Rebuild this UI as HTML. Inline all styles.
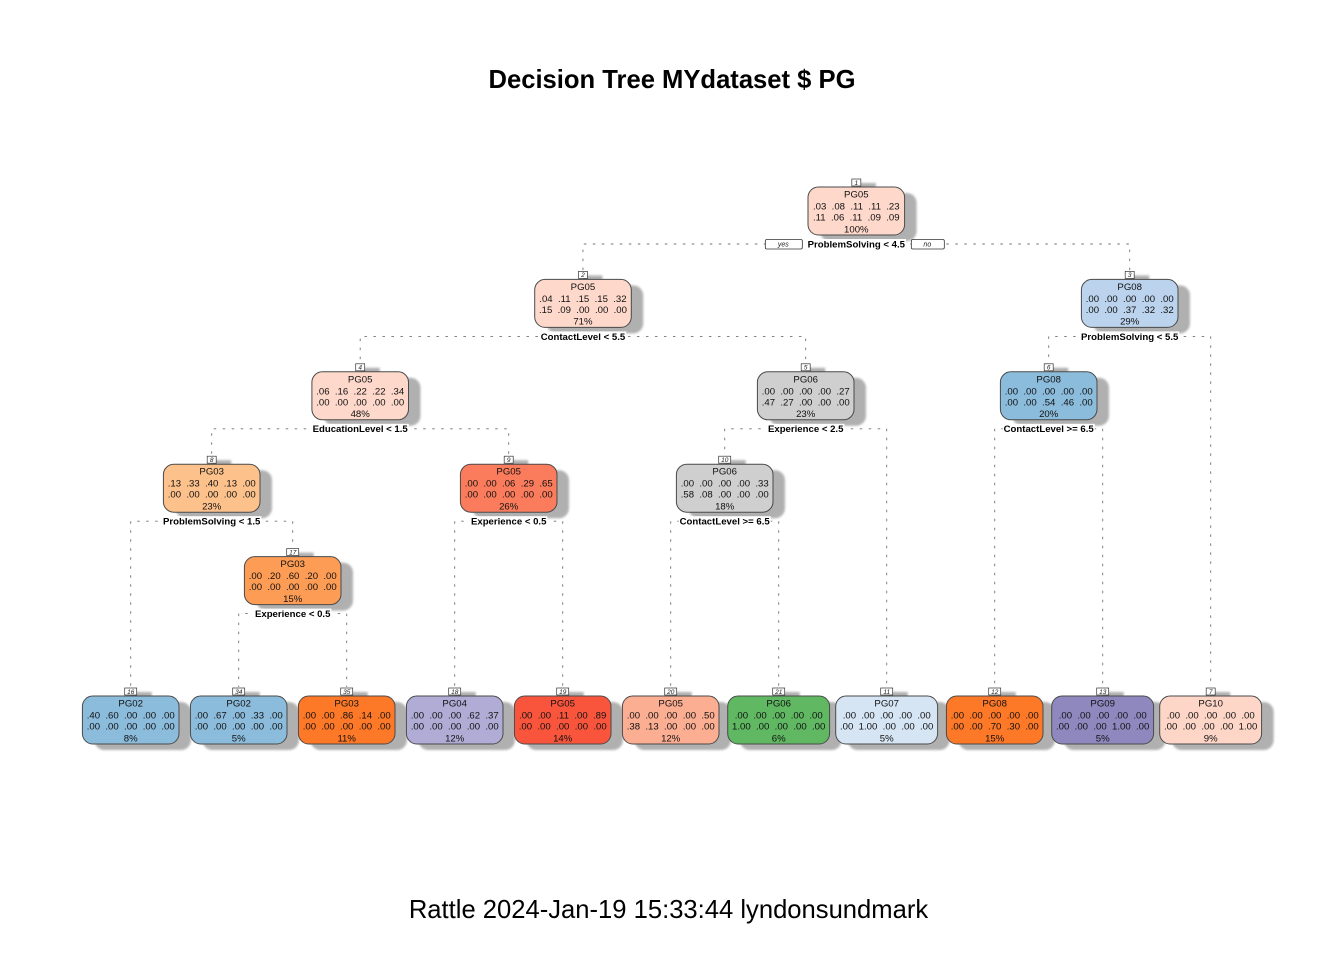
<!DOCTYPE html>
<html lang="en">
<head>
<meta charset="utf-8">
<title>Decision Tree MYdataset $ PG</title>
<style>
html,body{margin:0;padding:0;background:#fff;}
body{width:1344px;height:960px;overflow:hidden;}
svg{display:block;font-family:"Liberation Sans",Arial,sans-serif;}
</style>
</head>
<body>
<svg id="chart" width="1344" height="960" viewBox="0 0 1344 960" xmlns="http://www.w3.org/2000/svg">
<defs><filter id="soft" x="-10%" y="-10%" width="120%" height="120%"><feGaussianBlur stdDeviation="1.1"/></filter></defs>
<rect width="1344" height="960" fill="#fff"/>
<text x="672" y="88" text-anchor="middle" font-size="25.6" font-weight="bold" fill="#000">Decision Tree MYdataset $ PG</text>
<text x="668.5" y="918" text-anchor="middle" font-size="25.6" fill="#000">Rattle 2024-Jan-19 15:33:44 lyndonsundmark</text>
<g id="branches"></g>
<g id="shadows"></g>
<g id="nodes"></g>
</svg>
<script>
const nodeIds = [1,2,3,4,5,6,7,8,9,10,11,12,13,16,17,18,19,20,21,34,35];
const nodeClasses = ["PG05","PG05","PG08","PG05","PG06","PG08","PG10","PG03","PG05","PG06","PG07","PG08","PG09","PG02","PG03","PG04","PG05","PG05","PG06","PG02","PG03"];
const nodePercents = [100,71,29,48,23,20,9,23,26,18,5,15,5,8,15,12,14,12,6,5,11];
const nodeProbsTop = [
  [.03,.08,.11,.11,.23],[.04,.11,.15,.15,.32],[0,0,0,0,0],[.06,.16,.22,.22,.34],[0,0,0,0,.27],
  [0,0,0,0,0],[0,0,0,0,0],[.13,.33,.40,.13,0],[0,0,.06,.29,.65],[0,0,0,0,.33],
  [0,0,0,0,0],[0,0,0,0,0],[0,0,0,0,0],[.40,.60,0,0,0],[0,.20,.60,.20,0],
  [0,0,0,.62,.37],[0,0,.11,0,.89],[0,0,0,0,.50],[0,0,0,0,0],[0,.67,0,.33,0],[0,0,.86,.14,0]
];
const nodeProbsBottom = [
  [.11,.06,.11,.09,.09],[.15,.09,0,0,0],[0,0,.37,.32,.32],[0,0,0,0,0],[.47,.27,0,0,0],
  [0,0,.54,.46,0],[0,0,0,0,1],[0,0,0,0,0],[0,0,0,0,0],[.58,.08,0,0,0],
  [0,1,0,0,0],[0,0,.70,.30,0],[0,0,0,1,0],[0,0,0,0,0],[0,0,0,0,0],
  [0,0,0,0,0],[0,0,0,0,0],[.38,.13,0,0,0],[1,0,0,0,0],[0,0,0,0,0],[0,0,0,0,0]
];
const splitNodeIds = [1,2,3,4,5,6,8,9,10,17];
const splitLabels = ["ProblemSolving < 4.5","ContactLevel < 5.5","ProblemSolving < 5.5","EducationLevel < 1.5","Experience < 2.5","ContactLevel >= 6.5","ProblemSolving < 1.5","Experience < 0.5","ContactLevel >= 6.5","Experience < 0.5"];

/* styling, keyed by node id */
const nodeFillById = {1:"#fdd8cb",2:"#fdd8cb",3:"#bbd3ec",4:"#fdd8cb",5:"#cfcfcf",6:"#8cbcdc",7:"#fdd6c8",8:"#fdc28c",9:"#fb7c5c",10:"#cfcfcf",11:"#d6e5f4",12:"#fd7827",13:"#8e88bf",16:"#8cbcdc",17:"#fd9c55",18:"#b0acd6",19:"#f9553c",20:"#fcae93",21:"#60b862",34:"#8cbcdc",35:"#fd7827"};

/* axis-like layout functions */
const leafStart = 130.7, leafStep = 108, rowTop = 187, rowStep = 92.4, leafTop = 696, boxH = 48;
const has = id => nodeIds.includes(id);
const isLeaf = id => !has(id*2);
const leafOrder = [];
(function walk(id){ if(isLeaf(id)){leafOrder.push(id);return;} walk(id*2); walk(id*2+1); })(1);
const xOf = id => isLeaf(id) ? leafStart + leafOrder.indexOf(id)*leafStep : (xOf(id*2)+xOf(id*2+1))/2;
const topOf = id => isLeaf(id) ? leafTop : rowTop + Math.floor(Math.log2(id))*rowStep;
const fmt = v => v === 1 ? "1.00" : v.toFixed(2).replace(/^0/,"");
const rowText = r => r.map(fmt).join("\u00a0\u00a0");
const rowEm = r => r.reduce((s,v)=>s+(v===1?1.946:1.39),0)+8*0.278;
const widthOf = i => Math.max(rowEm(nodeProbsTop[i]),rowEm(nodeProbsBottom[i]))*9.6+8.5;

const NS = "http://www.w3.org/2000/svg";
function mk(tag, parent, attrs, txt){
  const e = document.createElementNS(NS, tag);
  for(const k in attrs) e.setAttribute(k, attrs[k]);
  if(txt !== undefined) e.textContent = txt;
  parent.appendChild(e);
  return e;
}
const gB = document.getElementById("branches");
const gS = document.getElementById("shadows");
const gN = document.getElementById("nodes");

/* branches */
splitNodeIds.forEach(id=>{
  const y = topOf(id)+boxH+9;
  [id*2,id*2+1].forEach(c=>{
    const p = mk("path", gB, {d:`M${xOf(id)} ${y}H${xOf(c)}V${topOf(c)-9}`, fill:"none", stroke:"#707070", "stroke-width":0.9, "stroke-dasharray":"2.5 6.5"});
    
    
  });
});

/* shadows */
nodeIds.forEach((id,i)=>{
  const x = xOf(id), t = topOf(id), w = widthOf(i);
  const lw = String(id).length>1 ? 12 : 9;
  const s = mk("g", gS, {fill:"#b0b0b0", filter:"url(#soft)"});
  
  
  mk("rect", s, {x:x-w/2+12, y:t+6, width:w, height:boxH, rx:10, ry:10});
  mk("rect", s, {x:x, y:t-4, width:lw/2+15, height:8});
});

/* nodes */
nodeIds.forEach((id,i)=>{
  const x = xOf(id), t = topOf(id), w = widthOf(i);
  const g = mk("g", gN, {});
  
  
  const box = mk("rect", g, {x:(x-w/2).toFixed(1), y:t, width:w.toFixed(1), height:boxH, rx:10.5, ry:10.5, fill:nodeFillById[id], stroke:"#4a4a4a", "stroke-width":1});
  
  
  const lw = String(id).length>1 ? 12 : 9;
  const lb = mk("rect", g, {x:x-lw/2, y:t-8, width:lw, height:7, fill:"#fff", stroke:"#333", "stroke-width":0.7});
  
  
  const ln = mk("text", g, {x:x, y:t-2.2, "text-anchor":"middle", "font-size":6.5, "font-style":"italic", fill:"#222"}, id);
  
  
  const c = mk("text", g, {x:x, y:t+10.5, "text-anchor":"middle", "font-size":9.6, fill:"#111"}, nodeClasses[i]);
  
  
  const r1 = mk("text", g, {x:x, y:t+22.5, "text-anchor":"middle", "font-size":9.6, fill:"#111"}, rowText(nodeProbsTop[i]));
  
  
  const r2 = mk("text", g, {x:x, y:t+33.5, "text-anchor":"middle", "font-size":9.6, fill:"#111"}, rowText(nodeProbsBottom[i]));
  
  
  const p = mk("text", g, {x:x, y:t+45.3, "text-anchor":"middle", "font-size":9.6, fill:"#111"}, nodePercents[i]+"%");
  
  
});

/* split labels */
splitNodeIds.forEach((id,k)=>{
  const x = xOf(id), y = topOf(id)+boxH+9;
  const g = mk("g", gN, {});
  
  
  const txt = splitLabels[k];
  const t = mk("text", g, {x:x, y:y+3.4, "text-anchor":"middle", "font-size":9.6, "font-weight":"bold", fill:"#000"}, txt);
  
  
  const tw = t.getComputedTextLength();
  const bg = mk("rect", g, {x:x-tw/2-1, y:y-5, width:tw+2, height:10, fill:"#fff"});
  
  
  g.insertBefore(bg, t);
});

/* yes / no tags on the root split */
const rootX = xOf(1), rootY = topOf(1)+boxH+9;
const yesBox = mk("rect", gN, {x:rootX-91, y:rootY-4.5, width:37, height:9.5, rx:1.5, fill:"#fff", stroke:"#333", "stroke-width":0.8});


const yesText = mk("text", gN, {x:rootX-73, y:rootY+2.6, "text-anchor":"middle", "font-size":7, "font-style":"italic", fill:"#222"}, "yes");


const noBox = mk("rect", gN, {x:rootX+55, y:rootY-4.5, width:33, height:9.5, rx:1.5, fill:"#fff", stroke:"#333", "stroke-width":0.8});


const noText = mk("text", gN, {x:rootX+71, y:rootY+2.6, "text-anchor":"middle", "font-size":7, "font-style":"italic", fill:"#222"}, "no");


</script>
</body>
</html>
